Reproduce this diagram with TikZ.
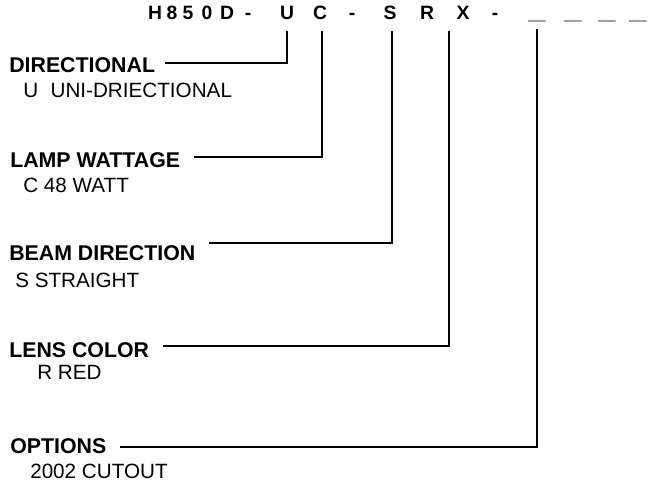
\documentclass[tikz,border=0pt]{standalone}
\usepackage{fontspec}
\setmainfont{Liberation Sans}
\usetikzlibrary{positioning}
\newcommand{\partblank}{\scalebox{1.6}[1]{\_}}

\begin{document}
\begin{tikzpicture}[x=0.75pt,y=-0.75pt,
  code char/.style={font=\fontsize{14.5}{16}\selectfont\bfseries,inner sep=0,anchor=base},
  label node/.style={font=\fontsize{16}{19}\selectfont\bfseries,inner sep=0,anchor=base west},
  sub node/.style={font=\fontsize{15.5}{18}\selectfont,inner sep=0,anchor=base west},
  lead/.style={line width=1.5pt,shorten <=10pt,line join=miter}]
\useasboundingbox (0,0) rectangle (648,485);
% part number
\foreach \x/\c [count=\i] in {155/H,172/8,188/5,207/0,227/D,248/-,287/U,320/C,352/-,
    390/S,427/R,463/X,495/-,537/\partblank,573/\partblank,607/\partblank,638/\partblank}
  \node[code char] (c\i) at (\x,20) {\c};
% labels
\node[label node] (dir) at (9,72.5) {DIRECTIONAL};
\node[sub node] (dirsub) at (23,97.5) {U\hspace{0.6em}UNI-DRIECTIONAL};
\node[label node] (lamp) at (10,167) {LAMP WATTAGE};
\node[sub node] (lampsub) at (23,192) {C 48 WATT};
\node[label node] (beam) at (9,260) {BEAM DIRECTION};
\node[sub node] (beamsub) at (15,287) {S STRAIGHT};
\node[label node] (lens) at (9,357) {LENS COLOR};
\node[sub node] (lenssub) at (37,379) {R RED};
\node[label node] (opt) at (10,453) {OPTIONS};
\node[sub node] (optsub) at (30,478) {2002 CUTOUT};
% leaders
\coordinate (tU) at (287,31); \coordinate (jU) at (287,63);
\coordinate (tC) at (322,31); \coordinate (jC) at (322,157);
\coordinate (tS) at (392,31); \coordinate (jS) at (392,243);
\coordinate (tX) at (449,31); \coordinate (jX) at (449,346);
\coordinate (tO) at (537,29); \coordinate (jO) at (537,447);
\draw[lead,shorten <=7pt] (dir.east |- jU) -- (jU) -- (tU);
\draw[lead] (lamp.east |- jC) -- (jC) -- (tC);
\draw[lead] (beam.east |- jS) -- (jS) -- (tS);
\draw[lead] (lens.east |- jX) -- (jX) -- (tX);
\draw[lead] (opt.east |- jO) -- (jO) -- (tO);
\end{tikzpicture}
\end{document}
